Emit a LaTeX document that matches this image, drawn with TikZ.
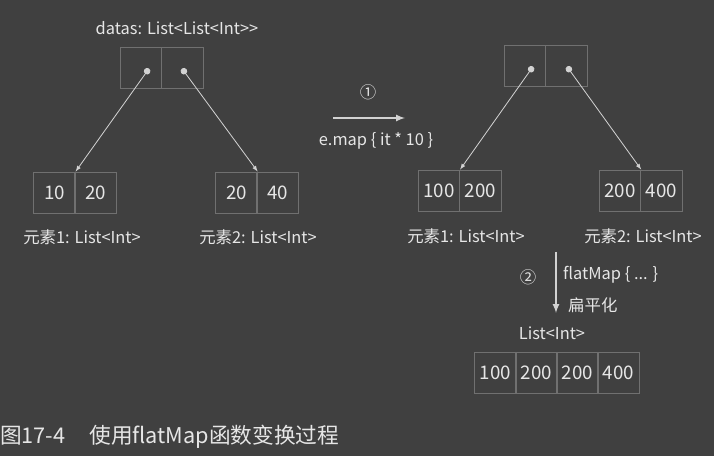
\documentclass[tikz,border=0pt]{standalone}
\usepackage{fontspec}
\setmainfont{Noto Sans CJK SC}
\usepackage{tikz}
\usetikzlibrary{arrows,positioning}
\definecolor{bgcol}{HTML}{404040}
\definecolor{txtcol}{HTML}{E6E6E6}
\definecolor{boxcol}{HTML}{707070}
\definecolor{linecol}{HTML}{D2D2D2}
\tikzset{
  cell/.style={draw=boxcol, line width=0.8pt, minimum width=1.24cm, minimum height=1.23cm, inner sep=0pt, text=txtcol, font=\fontsize{16}{18}\selectfont},
  lbl/.style={text=txtcol, inner sep=0pt, font=\fontsize{14}{16}\selectfont},
  ptr/.style={draw=linecol, line width=0.7pt, *-latex, shorten <=-1.5pt},
  step arrow/.style={draw=linecol, line width=1.6pt, -latex}
}
\begin{document}
\begin{tikzpicture}[x=0.03cm, y=-0.03cm]
\fill[bgcol] (0,0) rectangle (714,456);
% original list
\node[lbl] (datas) at (177,28) {datas: List<List<Int>{}>};
\node[cell] (t1) at (141,67.5) {};
\node[cell] (t2) at (182.5,67.5) {};
\node[cell] (a1) at (54.5,192.5) {10};
\node[cell] (a2) at (95.5,192.5) {20};
\node[cell] (b1) at (236.5,192.5) {20};
\node[cell] (b2) at (277.5,192.5) {40};
\node[lbl] (la) at (82,237) {元素1: List<Int>};
\node[lbl] (lb) at (258,237) {元素2: List<Int>};
\coordinate (p1) at (148,70);
\coordinate (p2) at (183,70);
\draw[ptr] (p1) -- (a1.north east);
\draw[ptr] (p2) -- (b1.north east);
% step 1
\coordinate (m1) at (333,118);
\coordinate (m2) at (405,118);
\draw[step arrow] (m1) -- (m2);
\node[lbl] (n1) at (368,92) {①};
\node[lbl] (emap) at (376,141) {e.map \{ it * 10 \}};
% mapped list
\node[cell] (u1) at (525,66) {};
\node[cell] (u2) at (566.5,66) {};
\node[cell] (c1) at (439,190.5) {100};
\node[cell] (c2) at (480.5,190.5) {200};
\node[cell] (d1) at (620,190.5) {200};
\node[cell] (d2) at (661.5,190.5) {400};
\node[lbl] (lc) at (466,236) {元素1: List<Int>};
\node[lbl] (ld) at (643,236) {元素2: List<Int>};
\coordinate (q1) at (532,68);
\coordinate (q2) at (568,68);
\draw[ptr] (q1) -- (c1.north east);
\draw[ptr] (q2) -- (d1.north east);
% step 2
\coordinate (f1) at (556,252);
\coordinate (f2) at (556,313);
\draw[step arrow] (f1) -- (f2);
\node[lbl] (n2) at (528,277) {②};
\node[lbl, anchor=west] (fm) at (563,275) {flatMap \{ ... \}};
\node[lbl, anchor=west] (flat) at (568,305) {扁平化};
% flat list
\node[lbl] (lr) at (552,333) {List<Int>};
\node[cell] (r1) at (495.5,372.5) {100};
\node[cell] (r2) at (536.5,372.5) {200};
\node[cell] (r3) at (577.5,372.5) {200};
\node[cell] (r4) at (618.5,372.5) {400};
% caption
\node[text=txtcol, anchor=west, inner sep=0pt, font=\fontsize{18.5}{20}\selectfont] (cap) at (0,437) {图17-4\hspace{1.1em}使用flatMap函数变换过程};
\end{tikzpicture}
\end{document}
